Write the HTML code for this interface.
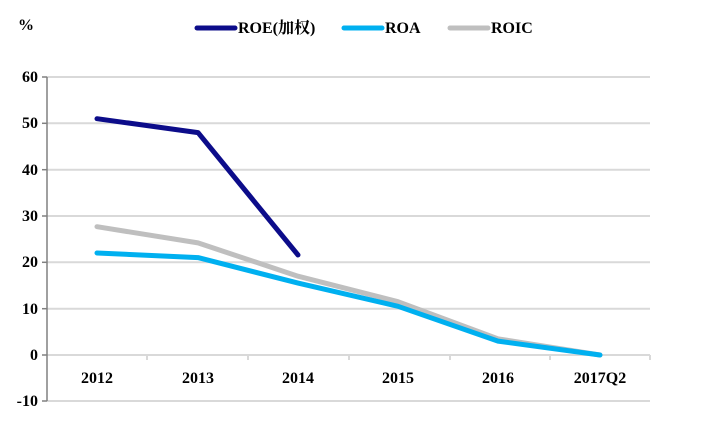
<!DOCTYPE html>
<html><head><meta charset="utf-8"><style>
html,body{margin:0;padding:0;background:#fff;}
svg{display:block;}
text{font-family:"Liberation Serif","Times New Roman","Noto Serif CJK SC",serif;font-weight:bold;}
</style></head><body>
<svg width="720" height="432" viewBox="0 0 720 432" font-family="Liberation Serif, Noto Serif CJK SC, serif" font-weight="bold">
<g stroke="#d9d9d9" stroke-width="2">
<line x1="47" y1="77" x2="650" y2="77"/>
<line x1="47" y1="123.3" x2="650" y2="123.3"/>
<line x1="47" y1="169.7" x2="650" y2="169.7"/>
<line x1="47" y1="216" x2="650" y2="216"/>
<line x1="47" y1="262.3" x2="650" y2="262.3"/>
<line x1="47" y1="308.7" x2="650" y2="308.7"/>
<line x1="47" y1="355" x2="650" y2="355"/>
<line x1="47" y1="401" x2="650" y2="401"/>
<line x1="147" y1="355" x2="147" y2="360"/>
<line x1="248" y1="355" x2="248" y2="360"/>
<line x1="349" y1="355" x2="349" y2="360"/>
<line x1="450" y1="355" x2="450" y2="360"/>
<line x1="550" y1="355" x2="550" y2="360"/>
<line x1="650" y1="355" x2="650" y2="360"/>
</g>
<g stroke="#808080" stroke-width="1.5">
<line x1="47" y1="77" x2="47" y2="401"/>
<line x1="42" y1="77" x2="47" y2="77"/>
<line x1="42" y1="123.3" x2="47" y2="123.3"/>
<line x1="42" y1="169.7" x2="47" y2="169.7"/>
<line x1="42" y1="216" x2="47" y2="216"/>
<line x1="42" y1="262.3" x2="47" y2="262.3"/>
<line x1="42" y1="308.7" x2="47" y2="308.7"/>
<line x1="42" y1="355" x2="47" y2="355"/>
<line x1="42" y1="401" x2="47" y2="401"/>
</g>
<g font-size="16" text-anchor="end" fill="#000">
<text x="38" y="82">60</text><text x="38" y="128">50</text><text x="38" y="175">40</text>
<text x="38" y="221">30</text><text x="38" y="267">20</text><text x="38" y="314">10</text>
<text x="38" y="360">0</text><text x="38" y="406">-10</text>
</g>
<g font-size="16" text-anchor="middle" fill="#000">
<text x="97" y="383">2012</text><text x="198" y="383">2013</text><text x="298" y="383">2014</text>
<text x="398" y="383">2015</text><text x="498" y="383">2016</text><text x="600" y="383">2017Q2</text>
</g>
<text x="18" y="30" font-size="16">%</text>
<g stroke-width="5" stroke-linecap="round" fill="none" stroke-linejoin="round">
<polyline stroke="#bfbfbf" points="97,226.7 198,242.9 298,276.2 398,301.7 498,338.8 600,355"/>
<polyline stroke="#00b0f0" points="97,253 198,257.6 298,283.1 398,306.3 498,341.1 600,355"/>
<polyline stroke="#0c0c8a" points="97,118.7 198,132.6 298,255"/>
<line stroke="#0c0c8a" x1="197" y1="28" x2="235" y2="28"/>
<line stroke="#00b0f0" x1="344" y1="28" x2="382" y2="28"/>
<line stroke="#bfbfbf" x1="450" y1="28" x2="488" y2="28"/>
</g>
<g font-size="16" fill="#000">
<text x="238" y="33">ROE(加权)</text>
<text x="385" y="33">ROA</text>
<text x="491" y="33">ROIC</text>
</g>
</svg>
</body></html>
